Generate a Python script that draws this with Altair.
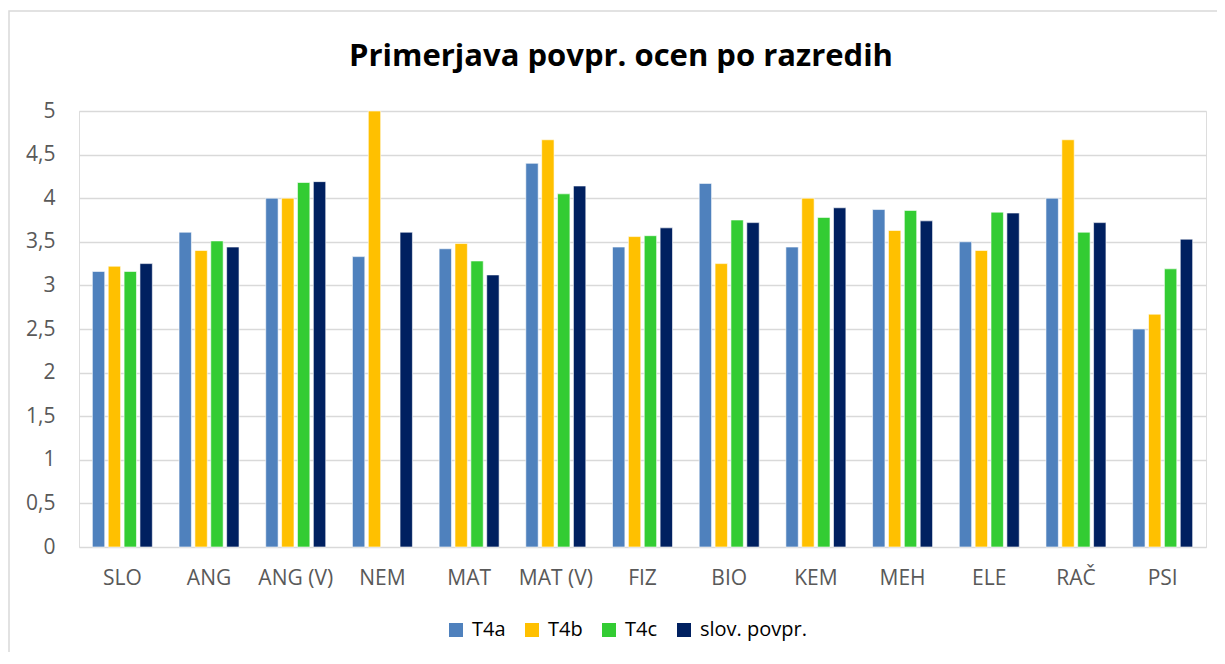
import altair as alt
import pandas as pd

categories = ["SLO", "ANG", "ANG (V)", "NEM", "MAT", "MAT (V)", "FIZ", "BIO", "KEM", "MEH", "ELE", "RAČ", "PSI"]
series = ["T4a", "T4b", "T4c", "slov. povpr."]
colors = ["#4f81bd", "#ffc000", "#33cc33", "#002060"]

t4a = [3.16, 3.61, 4.00, 3.33, 3.42, 4.40, 3.44, 4.17, 3.44, 3.87, 3.50, 4.00, 2.50]
t4b = [3.22, 3.40, 4.00, 5.00, 3.48, 4.67, 3.56, 3.25, 4.00, 3.63, 3.40, 4.67, 2.67]
t4c = [3.16, 3.51, 4.18, None, 3.28, 4.05, 3.57, 3.75, 3.78, 3.86, 3.84, 3.61, 3.19]
slov = [3.25, 3.44, 4.19, 3.61, 3.12, 4.14, 3.66, 3.72, 3.89, 3.74, 3.83, 3.72, 3.53]

TITLE = "Primerjava povpr. ocen po razredih"

rows = []
for name, vals in zip(series, [t4a, t4b, t4c, slov]):
    for c, v in zip(categories, vals):
        if v is not None:
            rows.append({"predmet": c, "razred": name, "ocena": v})
df = pd.DataFrame(rows)

FONT = "Open Sans"
GRAY = "#595959"

bars = alt.Chart(df).mark_bar(stroke="white", strokeWidth=0.6).encode(
    x=alt.X("predmet:N", sort=categories, title=None,
            scale=alt.Scale(paddingInner=0.308, paddingOuter=0.154),
            axis=alt.Axis(labelAngle=0, labelFont=FONT, labelFontSize=21, labelColor=GRAY,
                          labelPadding=20, ticks=False, domain=False, grid=False)),
    xOffset=alt.XOffset("razred:N", sort=series,
                        scale=alt.Scale(paddingInner=0.22, paddingOuter=0)),
    y=alt.Y("ocena:Q", title=None,
            scale=alt.Scale(domain=[0, 5], nice=False),
            axis=alt.Axis(values=[0, 0.5, 1, 1.5, 2, 2.5, 3, 3.5, 4, 4.5, 5],
                          labelExpr="replace(format(datum.value, '~g'), '.', ',')",
                          labelFont=FONT, labelFontSize=21, labelColor=GRAY,
                          labelPadding=24, ticks=False, domain=False,
                          gridColor="#d9d9d9", gridWidth=1.5)),
    color=alt.Color("razred:N", sort=series,
                    scale=alt.Scale(domain=series, range=colors),
                    legend=alt.Legend(title=None, orient="none", direction="horizontal",
                                      legendX=367, legendY=509,
                                      symbolType="square", symbolSize=196, symbolStrokeWidth=0,
                                      labelFont=FONT, labelFontSize=20, labelColor="black",
                                      labelOffset=6, columnPadding=16)),
)

one = pd.DataFrame({"t": [TITLE]})
frame = alt.Chart(one).mark_rect(fill=None, stroke="#d9d9d9", strokeWidth=1.5).encode(
    x=alt.value(-70), x2=alt.value(1300), y=alt.value(-100), y2=alt.value(700)
)
title = alt.Chart(one).mark_text(font=FONT, fontSize=31, fontWeight="bold", color="black",
                                 align="center", baseline="middle").encode(
    text="t:N", x=alt.value(542), y=alt.value(-54)
)

chart = alt.layer(frame, title, bars).properties(
    width=1127, height=436,
    autosize=alt.AutoSizeParams(type="none"),
    padding={"left": 71, "top": 103, "right": 11, "bottom": 105},
).configure_view(stroke=None).configure(background="white")

chart.save("out.html", embed_options={"renderer": "svg", "actions": False})
